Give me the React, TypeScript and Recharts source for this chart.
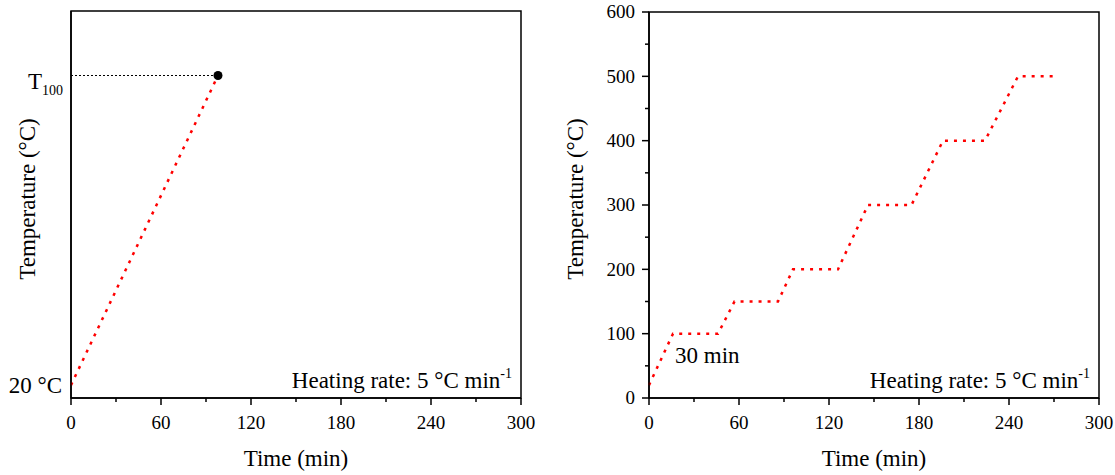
import { LineChart, Line, XAxis, YAxis, ReferenceArea, ReferenceLine, ReferenceDot, Customized } from 'recharts';

const FONT = '"Liberation Serif", "Times New Roman", serif';

// left panel: single ramp up to T100
const rampTime = [0, 98];
const rampTemp = [20, 500];
const t100 = 500;
const t100Time = 98;

// right panel: stepwise heating with 30 min holds
const stepTime = [0, 16, 46, 57, 86, 96, 126, 146, 175, 196, 224, 246, 271];
const stepTemp = [20, 100, 100, 150, 150, 200, 200, 300, 300, 400, 400, 500, 500];

const timeTicks = [0, 30, 60, 90, 120, 150, 180, 210, 240, 270, 300];
const tempTicks = [0, 50, 100, 150, 200, 250, 300, 350, 400, 450, 500, 550, 600];
const leftTempTicks = [20, 500];

const rampData = rampTime.map((t, i) => ({ t, temp: rampTemp[i] }));
const stepData = stepTime.map((t, i) => ({ t, temp: stepTemp[i] }));

function TimeTick(props: any) {
  const { x, y, payload } = props;
  const major = payload.value % 60 === 0;
  return (
    <g>
      <line x1={x} y1={y} x2={x} y2={y + (major ? 7 : 4)} stroke="#000" strokeWidth={1.5} />
      {major && (
        <text x={x} y={y + 31} textAnchor="middle" fontSize={19} fontFamily={FONT} fill="#000">
          {payload.value}
        </text>
      )}
    </g>
  );
}

function TempTick(props: any) {
  const { x, y, payload } = props;
  const major = payload.value % 100 === 0;
  return (
    <g>
      <line x1={x} y1={y} x2={x - (major ? 7 : 4)} y2={y} stroke="#000" strokeWidth={1.5} />
      {major && (
        <text x={x - 14} y={y} dy="0.34em" textAnchor="end" fontSize={19} fontFamily={FONT} fill="#000">
          {payload.value}
        </text>
      )}
    </g>
  );
}

function LeftTempTick(props: any) {
  const { x, y, payload } = props;
  if (payload.value === t100) {
    return (
      <text x={x - 8} y={y + 13} textAnchor="end" fontFamily={FONT} fill="#000">
        <tspan fontSize={23}>T</tspan>
        <tspan fontSize={14} dy={6}>100</tspan>
      </text>
    );
  }
  return (
    <text x={x - 9} y={y} dy="0.34em" textAnchor="end" fontSize={23} fontFamily={FONT} fill="#000">
      20 °C
    </text>
  );
}

function RateNote({ right }: { right: number }) {
  return (
    <text x={right} y={388} textAnchor="end" fontSize={23} fontFamily={FONT} fill="#000">
      Heating rate: 5 °C min
      <tspan fontSize={14} dy={-10}>-1</tspan>
    </text>
  );
}

function Titles({ yTitleX, cx, extra }: { yTitleX: number; cx: number; extra?: boolean }) {
  return (
    <g>
      <text
        transform={`translate(${yTitleX},199) rotate(-90)`}
        textAnchor="middle"
        fontSize={23}
        fontFamily={FONT}
        fill="#000"
      >
        Temperature (°C)
      </text>
      <text x={cx} y={466} textAnchor="middle" fontSize={23} fontFamily={FONT} fill="#000">
        Time (min)
      </text>
      {extra && (
        <text x={118} y={363} fontSize={23} fontFamily={FONT} fill="#000">
          30 min
        </text>
      )}
    </g>
  );
}

export default function App() {
  return (
    <div style={{ position: 'absolute', left: 0, top: 0, width: 1115, height: 475, display: 'flex', background: '#fff' }}>
      <LineChart width={557} height={475} data={rampData} margin={{ top: 11, right: 36, bottom: 17, left: 0 }}>
        <XAxis
          dataKey="t"
          type="number"
          domain={[0, 300]}
          ticks={timeTicks}
          interval={0}
          tickSize={0}
          tickMargin={0}
          tickLine={false}
          tick={<TimeTick />}
          height={60}
          axisLine={{ stroke: '#000', strokeWidth: 1.5 }}
        />
        <YAxis
          type="number"
          domain={[0, 600]}
          ticks={leftTempTicks}
          interval={0}
          tickSize={0}
          tickMargin={0}
          tickLine={false}
          tick={<LeftTempTick />}
          width={71}
          axisLine={{ stroke: '#000', strokeWidth: 1.5 }}
        />
        <ReferenceArea x1={0} x2={300} y1={0} y2={600} fill="none" stroke="#000" strokeWidth={1.5} />
        <ReferenceLine
          segment={[{ x: 0, y: t100 }, { x: t100Time, y: t100 }]}
          stroke="#000"
          strokeWidth={1.2}
          strokeDasharray="2 2"
        />
        <Line
          type="linear"
          dataKey="temp"
          stroke="#ff0000"
          strokeWidth={2.5}
          strokeDasharray="3 6"
          dot={false}
          isAnimationActive={false}
        />
        <ReferenceDot x={t100Time} y={t100} r={4.5} fill="#000" stroke="none" />
        <Customized component={() => <Titles yTitleX={35} cx={296} />} />
        <Customized component={() => <RateNote right={512} />} />
      </LineChart>
      <LineChart width={558} height={475} data={stepData} margin={{ top: 12, right: 16, bottom: 17, left: 0 }}>
        <XAxis
          dataKey="t"
          type="number"
          domain={[0, 300]}
          ticks={timeTicks}
          interval={0}
          tickSize={0}
          tickMargin={0}
          tickLine={false}
          tick={<TimeTick />}
          height={60}
          axisLine={{ stroke: '#000', strokeWidth: 1.5 }}
        />
        <YAxis
          type="number"
          domain={[0, 600]}
          ticks={tempTicks}
          interval={0}
          tickSize={0}
          tickMargin={0}
          tickLine={false}
          tick={<TempTick />}
          width={92}
          axisLine={{ stroke: '#000', strokeWidth: 1.5 }}
        />
        <ReferenceArea x1={0} x2={300} y1={0} y2={600} fill="none" stroke="#000" strokeWidth={1.5} />
        <Line
          type="linear"
          dataKey="temp"
          stroke="#ff0000"
          strokeWidth={2.5}
          strokeDasharray="3 6"
          dot={false}
          isAnimationActive={false}
        />
        <Customized component={() => <Titles yTitleX={26} cx={317} extra />} />
        <Customized component={() => <RateNote right={533} />} />
      </LineChart>
    </div>
  );
}
